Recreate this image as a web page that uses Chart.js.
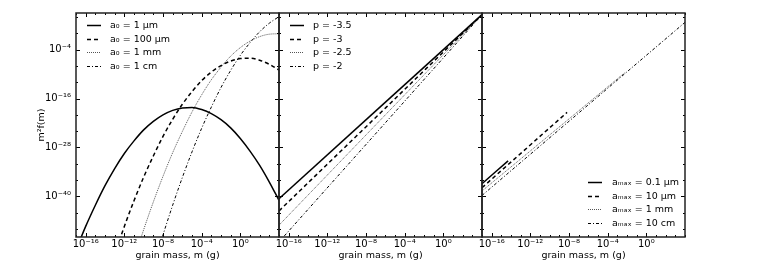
<!DOCTYPE html>
<html>
<head>
<meta charset="utf-8">
<script src="https://cdn.jsdelivr.net/npm/chart.js@4.4.1/dist/chart.umd.min.js"></script>
<style>
html,body{margin:0;padding:0;background:#fff;}
#wrap{position:relative;width:761px;height:263px;}
canvas{position:absolute;left:0;top:0;}
</style>
</head>
<body>
<div id="wrap">
<canvas id="p1" width="761" height="263"></canvas>
<canvas id="p2" width="761" height="263"></canvas>
<canvas id="p3" width="761" height="263"></canvas>
</div>
<script>
// all values are log10: x = log10 grain mass (g), y = log10 m^2 f(m)
var xRange = [-17, 4];
var yRange = [-50, 5];
var xTicks = [-16, -12, -8, -4, 0];
var yTicks = [-40, -28, -16, -4];

// panel 1: log-normal size distributions
var logMass = [-17,-16,-15,-14,-13,-12,-11,-10,-9,-8,-7,-6,-5,-4,-3,-2,-1,0,1,2,3,4];
var a0_1um   = [-53.2,-47.4,-42.2,-37.4,-33.2,-29.5,-26.4,-23.7,-21.6,-20.0,-18.9,-18.3,-18.2,-18.7,-19.7,-21.2,-23.2,-25.8,-28.9,-32.4,-36.5,-41.0];
var a0_100um = [null,null,null,null,-54.2,-47.4,-41.1,-35.3,-30.1,-25.3,-21.1,-17.4,-14.3,-11.6,-9.5,-7.9,-6.8,-6.2,-6.1,-6.6,-7.6,-9.0];
var a0_1mm   = [null,null,null,null,null,null,-55.5,-48.2,-41.4,-35.1,-29.3,-24.1,-19.3,-15.1,-11.4,-8.3,-5.6,-3.5,-1.9,-0.8,-0.2,-0.1];
var a0_1cm   = [null,null,null,null,null,null,null,null,-57.4,-49.5,-42.2,-35.4,-29.1,-23.3,-18.1,-13.3,-9.1,-5.4,-2.3,0.4,2.5,4.1];

// panel 2: power laws, slope p
var pMass = [-17, 4];
var p_35 = [-40.6, 4.6];
var p_30 = [-43.6, 4.6];
var p_25 = [-47.1, 4.6];
var p_20 = [-51.2, 4.6];

// panel 3: power laws cut at a_max
var amax01um_m = [-17, -14.3], amax01um = [-36.9, -31.3];
var amax10um_m = [-17, -8.2],  amax10um = [-37.9, -19.4];
var amax1mm_m  = [-17, -2.2],  amax1mm  = [-38.7, -9.6];
var amax10cm_m = [-17, 4],     amax10cm = [-39.8, 2.7];

var labels1 = ['a\u2080 = 1 \u03bcm', 'a\u2080 = 100 \u03bcm', 'a\u2080 = 1 mm', 'a\u2080 = 1 cm'];
var labels2 = ['p = -3.5', 'p = -3', 'p = -2.5', 'p = -2'];
var labels3 = ['a\u2098\u2090\u2093 = 0.1 \u03bcm', 'a\u2098\u2090\u2093 = 10 \u03bcm', 'a\u2098\u2090\u2093 = 1 mm', 'a\u2098\u2090\u2093 = 10 cm'];

var styles = [
  {borderColor:'#000', borderWidth:1.5, borderDash:[]},
  {borderColor:'#000', borderWidth:1.5, borderDash:[4,3]},
  {borderColor:'#555', borderWidth:1,   borderDash:[1,1]},
  {borderColor:'#000', borderWidth:1,   borderDash:[3,2,1,2]}
];

var FONT = '"DejaVu Sans", sans-serif';

function sup(v){
  var m = {'-':'\u207b','0':'\u2070','1':'\u00b9','2':'\u00b2','3':'\u00b3','4':'\u2074','5':'\u2075','6':'\u2076','7':'\u2077','8':'\u2078','9':'\u2079'};
  return '10' + String(v).split('').map(function(c){ return m[c]; }).join('');
}

function series(xs, ys, label, i){
  return Object.assign({
    label: label,
    data: xs.map(function(x, k){ return {x: x, y: ys[k]}; }),
    fill: false,
    pointRadius: 0,
    cubicInterpolationMode: 'monotone'
  }, styles[i]);
}

// frame, inward ticks and the legend inside the axes
var framePlugin = {
  id: 'frame',
  afterDatasetsDraw: function(chart, args, opts){
    var a = chart.chartArea, ctx = chart.ctx;
    var xs = chart.scales.x, ys = chart.scales.y;
    ctx.save();
    ctx.strokeStyle = '#000';
    ctx.lineWidth = 1;
    ctx.setLineDash([]);
    function seg(x1, y1, x2, y2){ ctx.beginPath(); ctx.moveTo(x1, y1); ctx.lineTo(x2, y2); ctx.stroke(); }
    for (var v = Math.ceil(xs.min); v <= xs.max; v++) {
      var px = Math.round(xs.getPixelForValue(v)) + 0.5;
      var len = xTicks.indexOf(v) >= 0 ? 4 : 2;
      seg(px, a.bottom, px, a.bottom - len);
      seg(px, a.top, px, a.top + len);
    }
    for (v = -48; v <= ys.max; v += 4) {
      var py = Math.round(ys.getPixelForValue(v)) + 0.5;
      len = yTicks.indexOf(v) >= 0 ? 4 : 2;
      seg(a.left, py, a.left + len, py);
      seg(a.right, py, a.right - len, py);
    }
    ctx.lineWidth = 1.5;
    ctx.strokeStyle = '#222';
    ctx.strokeRect(a.left, a.top, a.right - a.left, a.bottom - a.top);

    // legend
    var ds = chart.data.datasets;
    var gap = 13.6, sx, tx, y0;
    if (opts.corner === 'br') {
      sx = a.right - 97; tx = a.right - 73; y0 = a.bottom - 14 - gap * (ds.length - 1);
    } else {
      sx = a.left + 11; tx = a.left + 34; y0 = a.top + 12;
    }
    ctx.font = '9.5px ' + FONT;
    ctx.textBaseline = 'middle';
    ctx.textAlign = 'left';
    ctx.fillStyle = '#000';
    ds.forEach(function(d, i){
      var y = Math.round(y0 + gap * i) + 0.5;
      ctx.strokeStyle = d.borderColor;
      ctx.lineWidth = d.borderWidth;
      ctx.setLineDash(d.borderDash);
      seg(sx, y, sx + 14, y);
      ctx.fillText(d.label, tx, y);
    });
    ctx.restore();
  }
};

function makePanel(id, datasets, showY, pad, corner){
  return new Chart(document.getElementById(id), {
    type: 'line',
    data: {datasets: datasets},
    options: {
      responsive: false,
      animation: false,
      devicePixelRatio: 1,
      layout: {padding: pad},
      plugins: {legend: {display: false}, tooltip: {enabled: false}, frame: {corner: corner}},
      scales: {
        x: {
          type: 'linear', min: xRange[0], max: xRange[1],
          afterBuildTicks: function(s){ s.ticks = xTicks.map(function(v){ return {value: v}; }); },
          afterFit: function(s){ s.height = 26; },
          grid: {display: false, drawTicks: false},
          border: {display: false},
          ticks: {autoSkip: false, maxRotation: 0, padding: 1, color: '#000',
                  font: {family: FONT, size: 10}, callback: function(v){ return sup(v); }},
          title: {display: true, text: 'grain mass, m (g)', color: '#000',
                  font: {family: FONT, size: 9.5}, padding: {top: 0, bottom: 2}}
        },
        y: {
          type: 'linear', display: showY, min: yRange[0], max: yRange[1],
          afterBuildTicks: function(s){ s.ticks = yTicks.map(function(v){ return {value: v}; }); },
          afterFit: function(s){ if (showY) s.width = 76; },
          grid: {display: false, drawTicks: false},
          border: {display: false},
          ticks: {padding: 5, color: '#000', font: {family: FONT, size: 10},
                  callback: function(v){ return sup(v); }},
          title: {display: true, text: 'm\u00b2f(m)', color: '#000',
                  font: {family: FONT, size: 9.5}, padding: {top: 36, bottom: 0}}
        }
      }
    },
    plugins: [framePlugin]
  });
}

makePanel('p1', [
  series(logMass, a0_1um, labels1[0], 0),
  series(logMass, a0_100um, labels1[1], 1),
  series(logMass, a0_1mm, labels1[2], 2),
  series(logMass, a0_1cm, labels1[3], 3)
], true, {left: 0, right: 482, top: 13, bottom: 0}, 'tl');

makePanel('p2', [
  series(pMass, p_35, labels2[0], 0),
  series(pMass, p_30, labels2[1], 1),
  series(pMass, p_25, labels2[2], 2),
  series(pMass, p_20, labels2[3], 3)
], false, {left: 279, right: 279, top: 13, bottom: 0}, 'tl');

makePanel('p3', [
  series(amax01um_m, amax01um, labels3[0], 0),
  series(amax10um_m, amax10um, labels3[1], 1),
  series(amax1mm_m, amax1mm, labels3[2], 2),
  series(amax10cm_m, amax10cm, labels3[3], 3)
], false, {left: 482, right: 76, top: 13, bottom: 0}, 'br');
</script>
</body>
</html>
